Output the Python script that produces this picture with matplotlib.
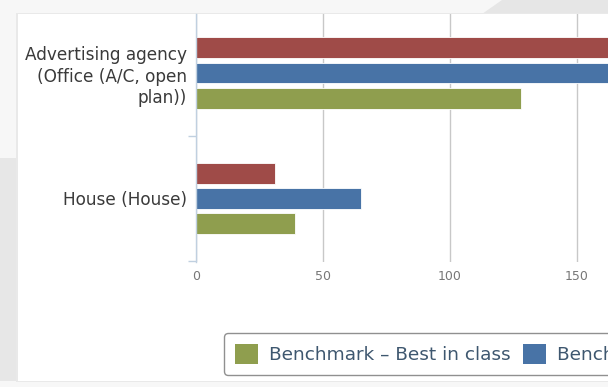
import matplotlib.pyplot as plt
from matplotlib.patches import Patch, Polygon, Rectangle

# building categories and energy intensity values per series
categories = ["Advertising agency\n(Office (A/C, open\nplan))", "House (House)"]
series_names = ["This building", "Benchmark – Typical", "Benchmark – Best in class"]
this_building = [205, 31]
typical = [185, 65]
best_in_class = [128, 39]
xticks = [0, 50, 100, 150]

colors = ["#9f4b48", "#4873a6", "#8f9e4e"]
W, H = 608, 387

fig = plt.figure(figsize=(W / 100, H / 100), dpi=100, facecolor="#f7f7f7")

# page background and card
def px_rect(x0, y0, x1, y1, color, z=0):
    fig.patches.append(Rectangle((x0 / W, 1 - y1 / H), (x1 - x0) / W, (y1 - y0) / H,
                                 transform=fig.transFigure, facecolor=color,
                                 edgecolor="none", zorder=z))

px_rect(0, 158, 17, 381, "#e7e7e7")
fig.patches.append(Polygon([(502 / W, 1.0), (1.0, 1.0), (1.0, 1 - 14 / H), (482 / W, 1 - 14 / H)],
                           closed=True, transform=fig.transFigure,
                           facecolor="#e6e6e6", edgecolor="none", zorder=0))
px_rect(16, 13, W, 382, "#e9e9e9", z=0.5)
px_rect(18, 14, W, 381, "white", z=1)

xmax = 250
ax = fig.add_axes([196 / W, 1 - 262 / H, xmax * 2.54 / W, (262 - 14) / H])
ax.set_facecolor("none")
ax.set_zorder(2)

y = list(range(len(categories)))
bar_h = 0.167
step = 0.2
for off, vals, c in zip([-step, 0, step], [this_building, typical, best_in_class], colors):
    ax.barh([i + off for i in y], vals, height=bar_h, color=c,
            edgecolor="white", linewidth=0.6, zorder=3)

ax.set_xlim(0, xmax)
ax.set_ylim(1.506, -0.470)
ax.set_xticks(xticks)
ax.grid(axis="x", color="#c8c8c8", linewidth=1, zorder=0)
ax.tick_params(axis="x", length=0, pad=6, labelsize=9, labelcolor="#777777")

ax.set_yticks(y)
ax.set_yticklabels(categories, fontsize=12.2, color="#3a3a3a", linespacing=1.25)
ax.set_yticks([0.5, 1.5], minor=True)
ax.tick_params(axis="y", which="major", length=0, pad=6.5)
ax.tick_params(axis="y", which="minor", length=6, width=1, color="#c0d0e0")

for s in ["top", "right", "bottom"]:
    ax.spines[s].set_visible(False)
ax.spines["left"].set_color("#c0d0e0")
ax.spines["left"].set_linewidth(1)
ax.spines["left"].set_zorder(4)

handles = [Patch(facecolor=colors[i], edgecolor="none", label=series_names[i]) for i in (2, 1, 0)]
leg = fig.legend(handles=handles, loc="upper left", bbox_to_anchor=(224 / W, 1 - 333 / H),
                 ncol=3, fontsize=13.3, labelcolor="#3e576f", frameon=True, fancybox=True,
                 edgecolor="#909090", facecolor="white", framealpha=1,
                 handlelength=1.25, handleheight=1.25, handletextpad=0.6,
                 columnspacing=0.65, borderpad=0.6, borderaxespad=0)
leg.get_frame().set_linewidth(1)
leg.set_zorder(5)

fig.savefig("out.png", dpi=100, facecolor=fig.get_facecolor())
